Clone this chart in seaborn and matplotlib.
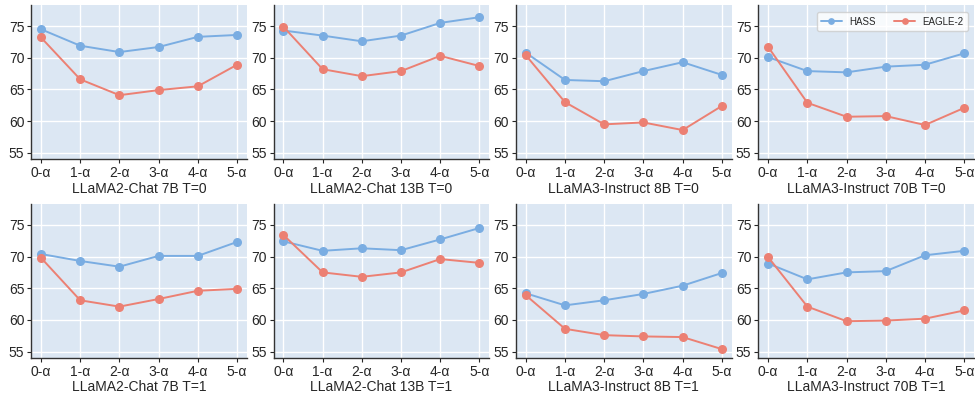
import matplotlib
matplotlib.use('Agg')
import matplotlib.pyplot as plt
import seaborn as sns
import pandas as pd

steps = ['0-α', '1-α', '2-α', '3-α', '4-α', '5-α']
methods = ['HASS', 'EAGLE-2']
titles = ['LLaMA2-Chat 7B T=0', 'LLaMA2-Chat 13B T=0', 'LLaMA3-Instruct 8B T=0', 'LLaMA3-Instruct 70B T=0',
          'LLaMA2-Chat 7B T=1', 'LLaMA2-Chat 13B T=1', 'LLaMA3-Instruct 8B T=1', 'LLaMA3-Instruct 70B T=1']

hass = [
    [74.5, 71.9, 70.9, 71.7, 73.3, 73.6],
    [74.3, 73.5, 72.6, 73.5, 75.5, 76.4],
    [70.8, 66.5, 66.3, 67.9, 69.3, 67.3],
    [70.1, 67.9, 67.7, 68.6, 68.9, 70.7],
    [70.4, 69.3, 68.4, 70.1, 70.1, 72.3],
    [72.4, 70.9, 71.3, 71.0, 72.7, 74.5],
    [64.2, 62.3, 63.1, 64.1, 65.4, 67.4],
    [68.9, 66.4, 67.5, 67.7, 70.2, 70.9],
]
eagle2 = [
    [73.2, 66.6, 64.1, 64.9, 65.5, 68.9],
    [74.9, 68.2, 67.1, 67.9, 70.3, 68.7],
    [70.4, 63.0, 59.5, 59.8, 58.6, 62.4],
    [71.7, 62.9, 60.7, 60.8, 59.4, 62.1],
    [69.8, 63.1, 62.1, 63.3, 64.6, 64.9],
    [73.4, 67.5, 66.8, 67.5, 69.6, 69.0],
    [63.9, 58.6, 57.6, 57.4, 57.3, 55.4],
    [69.9, 62.1, 59.8, 59.9, 60.2, 61.5],
]

palette = {'HASS': '#7aade2', 'EAGLE-2': '#ec8073'}

sns.set_style('ticks')
plt.rcParams['font.family'] = ['Liberation Sans', 'DejaVu Sans']

fig, axes = plt.subplots(2, 4, figsize=(9.75, 3.96), dpi=100)
fig.subplots_adjust(left=0.032, right=0.999, top=0.987, bottom=0.096, wspace=0.124, hspace=0.29)

for i, ax in enumerate(axes.flat):
    rows = []
    for j, s in enumerate(steps):
        rows.append({'step': j, 'method': 'HASS', 'acc': hass[i][j]})
        rows.append({'step': j, 'method': 'EAGLE-2', 'acc': eagle2[i][j]})
    df = pd.DataFrame(rows)
    ax.set_facecolor('#dce7f3')
    ax.grid(True, color='white', linewidth=1.0)
    ax.set_axisbelow(True)
    sns.lineplot(data=df, x='step', y='acc', hue='method', hue_order=methods, palette=palette,
                 marker='o', markersize=6.5, markeredgewidth=0, linewidth=1.4, ax=ax, legend=(i == 3))
    ax.set_ylim(54, 78.3)
    ax.set_yticks([55, 60, 65, 70, 75])
    ax.set_xticks(range(len(steps)))
    ax.set_xticklabels(steps)
    ax.set_xlabel(titles[i], fontsize=10, labelpad=1)
    ax.set_ylabel('')
    ax.tick_params(labelsize=10, length=3, pad=2)
    for side in ['top', 'right']:
        ax.spines[side].set_visible(False)
    for side in ['left', 'bottom']:
        ax.spines[side].set_color('#333333')
        ax.spines[side].set_linewidth(1.0)
    if i == 3:
        ax.legend(loc='upper right', ncol=2, fontsize=7, frameon=True, fancybox=True,
                  handlelength=2.1, columnspacing=1.9, handletextpad=0.8, markerscale=0.75,
                  borderpad=0.45, bbox_to_anchor=(0.995, 0.985))

fig.savefig('out.png', dpi=100)
